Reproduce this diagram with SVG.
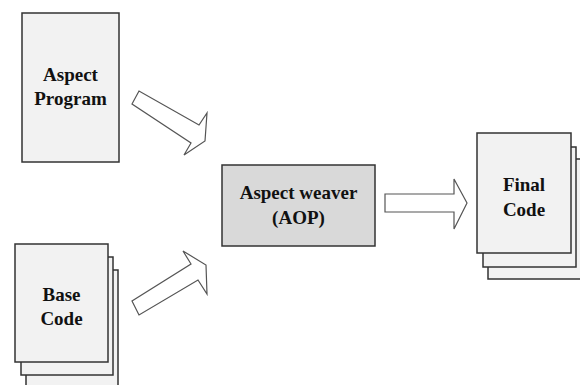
<svg xmlns="http://www.w3.org/2000/svg" width="580" height="385" viewBox="0 0 580 385">
<style>
.doc{fill:#f2f2f2;stroke:#333;stroke-width:1.5}
.weaver{fill:#d9d9d9;stroke:#333;stroke-width:1.5}
.arrow{fill:#fff;stroke:#555;stroke-width:1.2;stroke-linejoin:miter}
.lbl{font-family:"Liberation Serif","Times New Roman",serif;font-weight:bold;font-size:19px;fill:#111;text-anchor:middle}
</style>
<rect width="580" height="385" fill="#fff"/>
<g id="aspect-program">
<rect class="doc" x="22" y="13" width="97" height="149"/>
<text class="lbl" x="70.5" y="81">Aspect</text>
<text class="lbl" x="70.5" y="105">Program</text>
</g>
<g id="base-code">
<rect class="doc" x="26" y="270" width="92" height="125"/>
<rect class="doc" x="21" y="257" width="92" height="118"/>
<rect class="doc" x="15" y="244" width="93" height="118"/>
<text class="lbl" x="61.5" y="301">Base</text>
<text class="lbl" x="61.5" y="325">Code</text>
</g>
<g id="aspect-weaver">
<rect class="weaver" x="222" y="165" width="153" height="81"/>
<text class="lbl" x="298.5" y="199">Aspect weaver</text>
<text class="lbl" x="298.5" y="224">(AOP)</text>
</g>
<g id="final-code">
<rect class="doc" x="488" y="159" width="95" height="120"/>
<rect class="doc" x="483" y="147" width="93" height="120"/>
<rect class="doc" x="477" y="133" width="94" height="120"/>
<text class="lbl" x="524" y="191">Final</text>
<text class="lbl" x="524" y="216">Code</text>
</g>
<g id="connectors">
<polygon class="arrow" points="132,104 139,91 199,125 207,113 205,141 184,155 191,143"/>
<polygon class="arrow" points="132,301 139,315 198,280 207,294 206,265 183,251 191,264"/>
<polygon class="arrow" points="385,194 454,194 454,179 467,203 454,229 454,212 385,212"/>
</g>
</svg>
